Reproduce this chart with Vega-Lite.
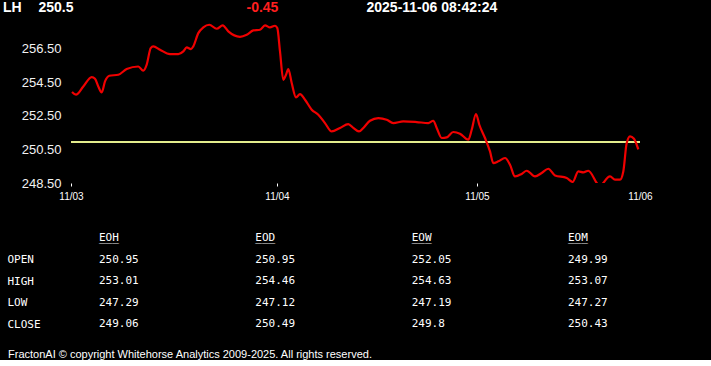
{
  "$schema": "https://vega.github.io/schema/vega-lite/v6.json",
  "background": "black",
  "padding": 0,
  "spacing": 0,
  "bounds": "flush",
  "config": {"view": {"stroke": null}, "font": "Liberation Sans"},
  "datasets": {
    "header": [
      {"item": "symbol", "text": "LH"},
      {"item": "last", "text": "250.5"},
      {"item": "change", "text": "-0.45"},
      {"item": "time", "text": "2025-11-06 08:42:24"}
    ],
    "ref": [{"label": "open", "v": 250.95, "t": 0, "t1": 284.5}],
    "price": [
      {"t": 0.5, "v": 253.92}, {"t": 2.5, "v": 253.76}, {"t": 6.15, "v": 254.25}, {"t": 10.35, "v": 254.81},
      {"t": 12, "v": 254.71}, {"t": 13.65, "v": 254.25}, {"t": 15.35, "v": 253.9}, {"t": 17, "v": 254.55},
      {"t": 19.15, "v": 254.89}, {"t": 23.65, "v": 254.95}, {"t": 27.85, "v": 255.29}, {"t": 33.65, "v": 255.44},
      {"t": 36.15, "v": 255.19}, {"t": 37.85, "v": 255.55}, {"t": 39.85, "v": 256.54}, {"t": 41.15, "v": 256.64},
      {"t": 44.5, "v": 256.44}, {"t": 49.5, "v": 256.18}, {"t": 53.65, "v": 256.18}, {"t": 56.15, "v": 256.34},
      {"t": 57.85, "v": 256.58}, {"t": 60, "v": 256.48}, {"t": 61.15, "v": 256.64}, {"t": 63.65, "v": 257.43},
      {"t": 66.15, "v": 257.77}, {"t": 69.15, "v": 257.93}, {"t": 72.85, "v": 257.69}, {"t": 75.85, "v": 257.89},
      {"t": 78.65, "v": 257.53}, {"t": 84.5, "v": 257.21}, {"t": 87.85, "v": 257.33}, {"t": 91.15, "v": 257.59},
      {"t": 94.5, "v": 257.63}, {"t": 97, "v": 257.89}, {"t": 99.5, "v": 257.77}, {"t": 102, "v": 257.87},
      {"t": 103.15, "v": 257.73}, {"t": 104.5, "v": 256.34}, {"t": 106.15, "v": 254.65}, {"t": 107.5, "v": 254.95},
      {"t": 108.65, "v": 255.29}, {"t": 110.35, "v": 254.46}, {"t": 112.5, "v": 253.6}, {"t": 114.5, "v": 253.8},
      {"t": 117, "v": 253.46}, {"t": 120.35, "v": 252.87}, {"t": 123.65, "v": 252.57}, {"t": 127, "v": 252.07},
      {"t": 130.35, "v": 251.57}, {"t": 134.5, "v": 251.78}, {"t": 138.65, "v": 252.01}, {"t": 141.15, "v": 251.78},
      {"t": 144, "v": 251.57}, {"t": 146.15, "v": 251.78}, {"t": 149.5, "v": 252.21}, {"t": 153.65, "v": 252.37},
      {"t": 157.85, "v": 252.27}, {"t": 161.15, "v": 252.07}, {"t": 166.15, "v": 252.17}, {"t": 172.85, "v": 252.13},
      {"t": 178.65, "v": 252.07}, {"t": 181.15, "v": 252.21}, {"t": 182.85, "v": 251.78}, {"t": 185.35, "v": 251.18},
      {"t": 187.85, "v": 251.22}, {"t": 191.15, "v": 251.54}, {"t": 194.5, "v": 251.44}, {"t": 198.65, "v": 251.08},
      {"t": 200.35, "v": 251.67}, {"t": 202.5, "v": 252.61}, {"t": 204.15, "v": 251.97}, {"t": 207, "v": 251.18},
      {"t": 209.5, "v": 250.38}, {"t": 211.15, "v": 249.69}, {"t": 213.65, "v": 249.79}, {"t": 217, "v": 249.99},
      {"t": 219.5, "v": 249.59}, {"t": 222, "v": 248.89}, {"t": 225.35, "v": 249.04}, {"t": 227.85, "v": 249.23},
      {"t": 232, "v": 248.89}, {"t": 235.35, "v": 249.1}, {"t": 238.65, "v": 249.35}, {"t": 242, "v": 248.95},
      {"t": 247.85, "v": 248.8}, {"t": 250.85, "v": 248.56}, {"t": 253.65, "v": 249.19}, {"t": 256.15, "v": 249.13},
      {"t": 258.65, "v": 249.23}, {"t": 262.85, "v": 248.5}, {"t": 264.5, "v": 248.22}, {"t": 266.15, "v": 248.5},
      {"t": 269.5, "v": 248.89}, {"t": 272, "v": 248.7}, {"t": 274.5, "v": 248.7}, {"t": 276.15, "v": 249.19},
      {"t": 277.85, "v": 250.88}, {"t": 279.5, "v": 251.28}, {"t": 281.5, "v": 251.14}, {"t": 283.65, "v": 250.5}
    ],
    "table": [
      {"period": "EOH", "row": "OPEN", "value": "250.95"},
      {"period": "EOH", "row": "HIGH", "value": "253.01"},
      {"period": "EOH", "row": "LOW", "value": "247.29"},
      {"period": "EOH", "row": "CLOSE", "value": "249.06"},
      {"period": "EOD", "row": "OPEN", "value": "250.95"},
      {"period": "EOD", "row": "HIGH", "value": "254.46"},
      {"period": "EOD", "row": "LOW", "value": "247.12"},
      {"period": "EOD", "row": "CLOSE", "value": "250.49"},
      {"period": "EOW", "row": "OPEN", "value": "252.05"},
      {"period": "EOW", "row": "HIGH", "value": "254.63"},
      {"period": "EOW", "row": "LOW", "value": "247.19"},
      {"period": "EOW", "row": "CLOSE", "value": "249.8"},
      {"period": "EOM", "row": "OPEN", "value": "249.99"},
      {"period": "EOM", "row": "HIGH", "value": "253.07"},
      {"period": "EOM", "row": "LOW", "value": "247.27"},
      {"period": "EOM", "row": "CLOSE", "value": "250.43"}
    ]
  },
  "vconcat": [
    {
      "width": 711,
      "height": 16,
      "data": {"name": "header"},
      "layer": [
        {
          "transform": [{"filter": "datum.item == 'symbol' || datum.item == 'last'"}],
          "mark": {"type": "text", "align": "left", "baseline": "middle", "fontSize": 14, "fontWeight": "bold", "color": "white"},
          "encoding": {
            "x": {"field": "item", "type": "nominal", "scale": {"type": "point", "domain": ["symbol", "last"], "range": [3, 38.5], "padding": 0}, "axis": null},
            "text": {"field": "text"}
          }
        },
        {
          "transform": [{"filter": "datum.item == 'change' || datum.item == 'time'"}],
          "mark": {"type": "text", "align": "left", "baseline": "middle", "fontSize": 14, "fontWeight": "bold"},
          "encoding": {
            "x": {"field": "item", "type": "nominal", "scale": {"type": "point", "domain": ["change", "time"], "range": [246.5, 366.5], "padding": 0}, "axis": null},
            "text": {"field": "text"},
            "color": {"condition": {"test": "datum.item == 'change'", "value": "#ff1f1f"}, "value": "white"}
          }
        }
      ],
      "resolve": {"scale": {"x": "independent"}}
    },
    {
      "width": 711,
      "height": 167,
      "encoding": {
        "x": {
          "field": "t", "type": "quantitative",
          "scale": {"domain": [0, 284.5], "range": [71, 640], "zero": false, "nice": false},
          "axis": {
            "title": null, "values": [0, 103, 203, 284.5],
            "labelExpr": "datum.value == 0 ? '11/03' : datum.value == 103 ? '11/04' : datum.value == 203 ? '11/05' : '11/06'",
            "domain": false, "grid": false, "tickSize": 3, "tickWidth": 1,
            "tickColor": {"condition": {"test": "datum.value > 280", "value": "transparent"}, "value": "white"},
            "labelColor": "white", "labelFontSize": 10, "labelPadding": 5, "labelFlush": false, "labelOverlap": false
          }
        },
        "y": {
          "field": "v", "type": "quantitative",
          "scale": {"domain": [248.5, 258.45], "zero": false, "nice": false},
          "axis": {
            "title": null, "values": [248.5, 250.5, 252.5, 254.5, 256.5], "format": ".2f",
            "domain": false, "grid": false, "ticks": false, "tickSize": 0, "offset": -71,
            "labelPadding": 10, "labelFontSize": 13, "labelColor": "#f2f2f2"
          }
        }
      },
      "layer": [
        {
          "data": {"name": "ref"},
          "mark": {"type": "rule", "color": "#e3ec8c", "strokeWidth": 2},
          "encoding": {
            "x2": {"field": "t1"}
          }
        },
        {
          "data": {"name": "price"},
          "mark": {"type": "line", "color": "#f00000", "strokeWidth": 2.2, "interpolate": "monotone", "clip": true}
        }
      ]
    },
    {
      "width": 711,
      "height": 165,
      "data": {"name": "table"},
      "title": {
        "text": "FractonAI © copyright Whitehorse Analytics 2009-2025. All rights reserved.",
        "orient": "bottom", "anchor": "start", "frame": "group", "dx": 8, "offset": 7,
        "baseline": "middle", "fontSize": 11, "fontWeight": "normal", "color": "white", "font": "Liberation Sans"
      },
      "encoding": {
        "x": {"field": "period", "type": "nominal", "scale": {"type": "point", "domain": ["EOH", "EOD", "EOW", "EOM"], "range": [99, 568], "padding": 0}, "axis": null}
      },
      "layer": [
        {
          "mark": {"type": "text", "align": "left", "baseline": "middle", "font": "DejaVu Sans Mono", "fontSize": 11, "color": "white"},
          "encoding": {
            "y": {
              "field": "row", "type": "nominal",
              "scale": {"type": "point", "domain": ["HDR", "OPEN", "HIGH", "LOW", "CLOSE"], "range": [55.3, 141.3], "padding": 0},
              "axis": {
                "title": null, "domain": false, "ticks": false, "tickSize": 0, "labelPadding": 0, "offset": -7,
                "labelAlign": "left", "labelFont": "DejaVu Sans Mono", "labelFontSize": 11, "labelColor": "white",
                "labelExpr": "datum.value == 'HDR' ? '' : datum.value"
              }
            },
            "text": {"field": "value", "type": "nominal"}
          }
        },
        {
          "transform": [{"filter": "datum.row == 'OPEN'"}],
          "mark": {"type": "text", "align": "left", "baseline": "middle", "font": "DejaVu Sans Mono", "fontSize": 11, "color": "white"},
          "encoding": {
            "y": {"datum": "HDR", "type": "nominal"},
            "text": {"field": "period", "type": "nominal"}
          }
        },
        {
          "transform": [{"filter": "datum.row == 'OPEN'"}],
          "mark": {"type": "text", "align": "left", "baseline": "middle", "font": "DejaVu Sans Mono", "fontSize": 11, "color": "white", "text": "___"},
          "encoding": {
            "y": {"datum": "HDR", "type": "nominal"}
          }
        }
      ]
    }
  ]
}
